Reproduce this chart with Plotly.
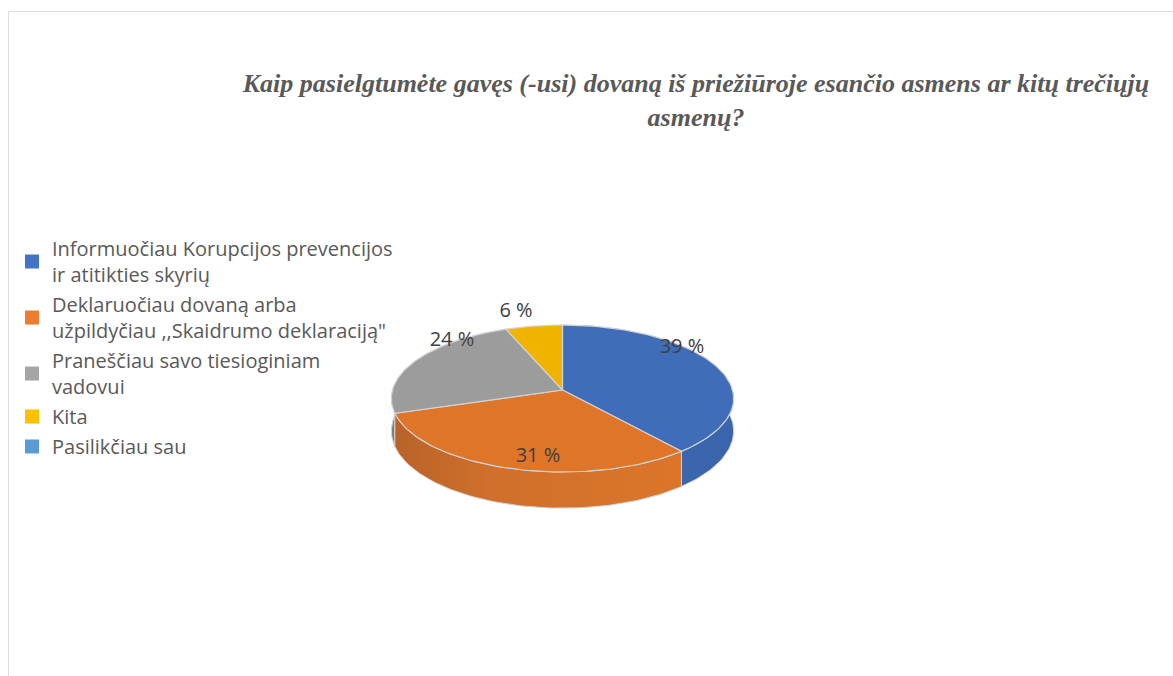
import numpy as np
import plotly.graph_objects as go

TITLE = "Kaip pasielgtumėte gavęs (-usi) dovaną iš priežiūroje esančio asmens ar kitų trečiųjų<br>asmenų?"
CATEGORIES = [
    "Informuočiau Korupcijos prevencijos<br>ir atitikties skyrių",
    "Deklaruočiau dovaną arba<br>užpildyčiau ,,Skaidrumo deklaraciją\"",
    "Praneščiau savo tiesioginiam<br>vadovui",
    "Kita",
    "Pasilikčiau sau",
]
VALUES = [39, 31, 24, 6, 0]
LEGEND_COLORS = ["#4472C4", "#ED7D31", "#A5A5A5", "#FFC000", "#5B9BD5"]
TOP_COLORS = ["#406DB9", "#DF7529", "#9C9C9C", "#F0B400", "#5B9BD5"]
SIDE_SCALES = [
    [[0, "#3560A6"], [0.5, "#3B67B0"], [1, "#3A65AC"]],
    [[0, "#B9632A"], [0.35, "#D0702B"], [1, "#DC752A"]],
    [[0, "#7E7E7E"], [1, "#8E8E8E"]],
    [[0, "#C79600"], [1, "#C79600"]],
    [[0, "#4A80B0"], [1, "#4A80B0"]],
]
LABEL_POS = [(682, 348), (538, 457), (452, 341), (516, 312)]

# projected pie geometry, in the pixel units of the axes
CX, CY, RX, RY, PERSP, DEPTH = 562.5, 390, 170, 72.5, 0.1156, 32


def project(theta, drop=0.0):
    u, v = np.sin(theta), np.cos(theta)
    w = 1 + PERSP * v
    return CX + RX * u / w, CY - (RY * v - drop) / w


fig = go.Figure()
edges = np.cumsum([0] + VALUES) / sum(VALUES) * 2 * np.pi
order = [2, 0, 1]  # painter's order: back to front for the rim
for i in order:
    th = np.linspace(edges[i], edges[i + 1], 90)
    xt, yt = project(th)
    xb, yb = project(th, DEPTH)
    fig.add_trace(go.Scatter(
        x=np.r_[xt, xb[::-1], xt[0]], y=np.r_[yt, yb[::-1], yt[0]],
        mode="lines", fill="toself", line=dict(color="#D2D2D2", width=1),
        fillgradient=dict(type="horizontal", colorscale=SIDE_SCALES[i]),
        showlegend=False, hoverinfo="skip"))
for i, val in enumerate(VALUES):
    if val <= 0:
        continue
    th = np.linspace(edges[i], edges[i + 1], 90)
    xt, yt = project(th)
    fig.add_trace(go.Scatter(
        x=np.r_[CX, xt, CX], y=np.r_[CY, yt, CY],
        mode="lines", fill="toself", fillcolor=TOP_COLORS[i],
        line=dict(color="#D2D2D2", width=1.2),
        showlegend=False, hoverinfo="skip"))
for (x, y), val in zip(LABEL_POS, VALUES):
    fig.add_trace(go.Scatter(
        x=[x], y=[y], mode="text", text=[f"{val} %"], textposition="middle center",
        textfont=dict(family="Open Sans", size=20, color="#404040"),
        showlegend=False, hoverinfo="skip"))
for name, color in zip(CATEGORIES, LEGEND_COLORS):
    fig.add_trace(go.Scatter(
        x=[None], y=[None], mode="markers", name=name, legendgroup=name,
        marker=dict(symbol="square", size=16, color=color, line=dict(color=color, width=2))))

fig.update_layout(
    width=1173, height=676, margin=dict(l=0, r=0, t=0, b=0),
    paper_bgcolor="white", plot_bgcolor="white",
    xaxis=dict(range=[0, 1173], visible=False, fixedrange=True),
    yaxis=dict(range=[676, 0], visible=False, fixedrange=True),
    title=dict(text=TITLE, x=696 / 1173, xanchor="center", y=1 - 92 / 676, yanchor="middle",
               font=dict(family="Liberation Serif", size=26, color="#595959", weight="bold", style="italic")),
    legend=dict(x=12 / 1173, xanchor="left", y=1 - 229 / 676, yanchor="top",
                font=dict(family="Open Sans", size=20, color="#595959"),
                tracegroupgap=1, itemsizing="constant", bgcolor="rgba(0,0,0,0)"),
    shapes=[
        dict(type="line", x0=8, x1=1173, y0=11.5, y1=11.5, line=dict(color="#DDDDDD", width=1)),
        dict(type="line", x0=8.5, x1=8.5, y0=11, y1=676, line=dict(color="#DDDDDD", width=1)),
    ],
)
fig.write_html("out.html", config={"displayModeBar": False},
               post_script="document.body.style.margin='0';")
